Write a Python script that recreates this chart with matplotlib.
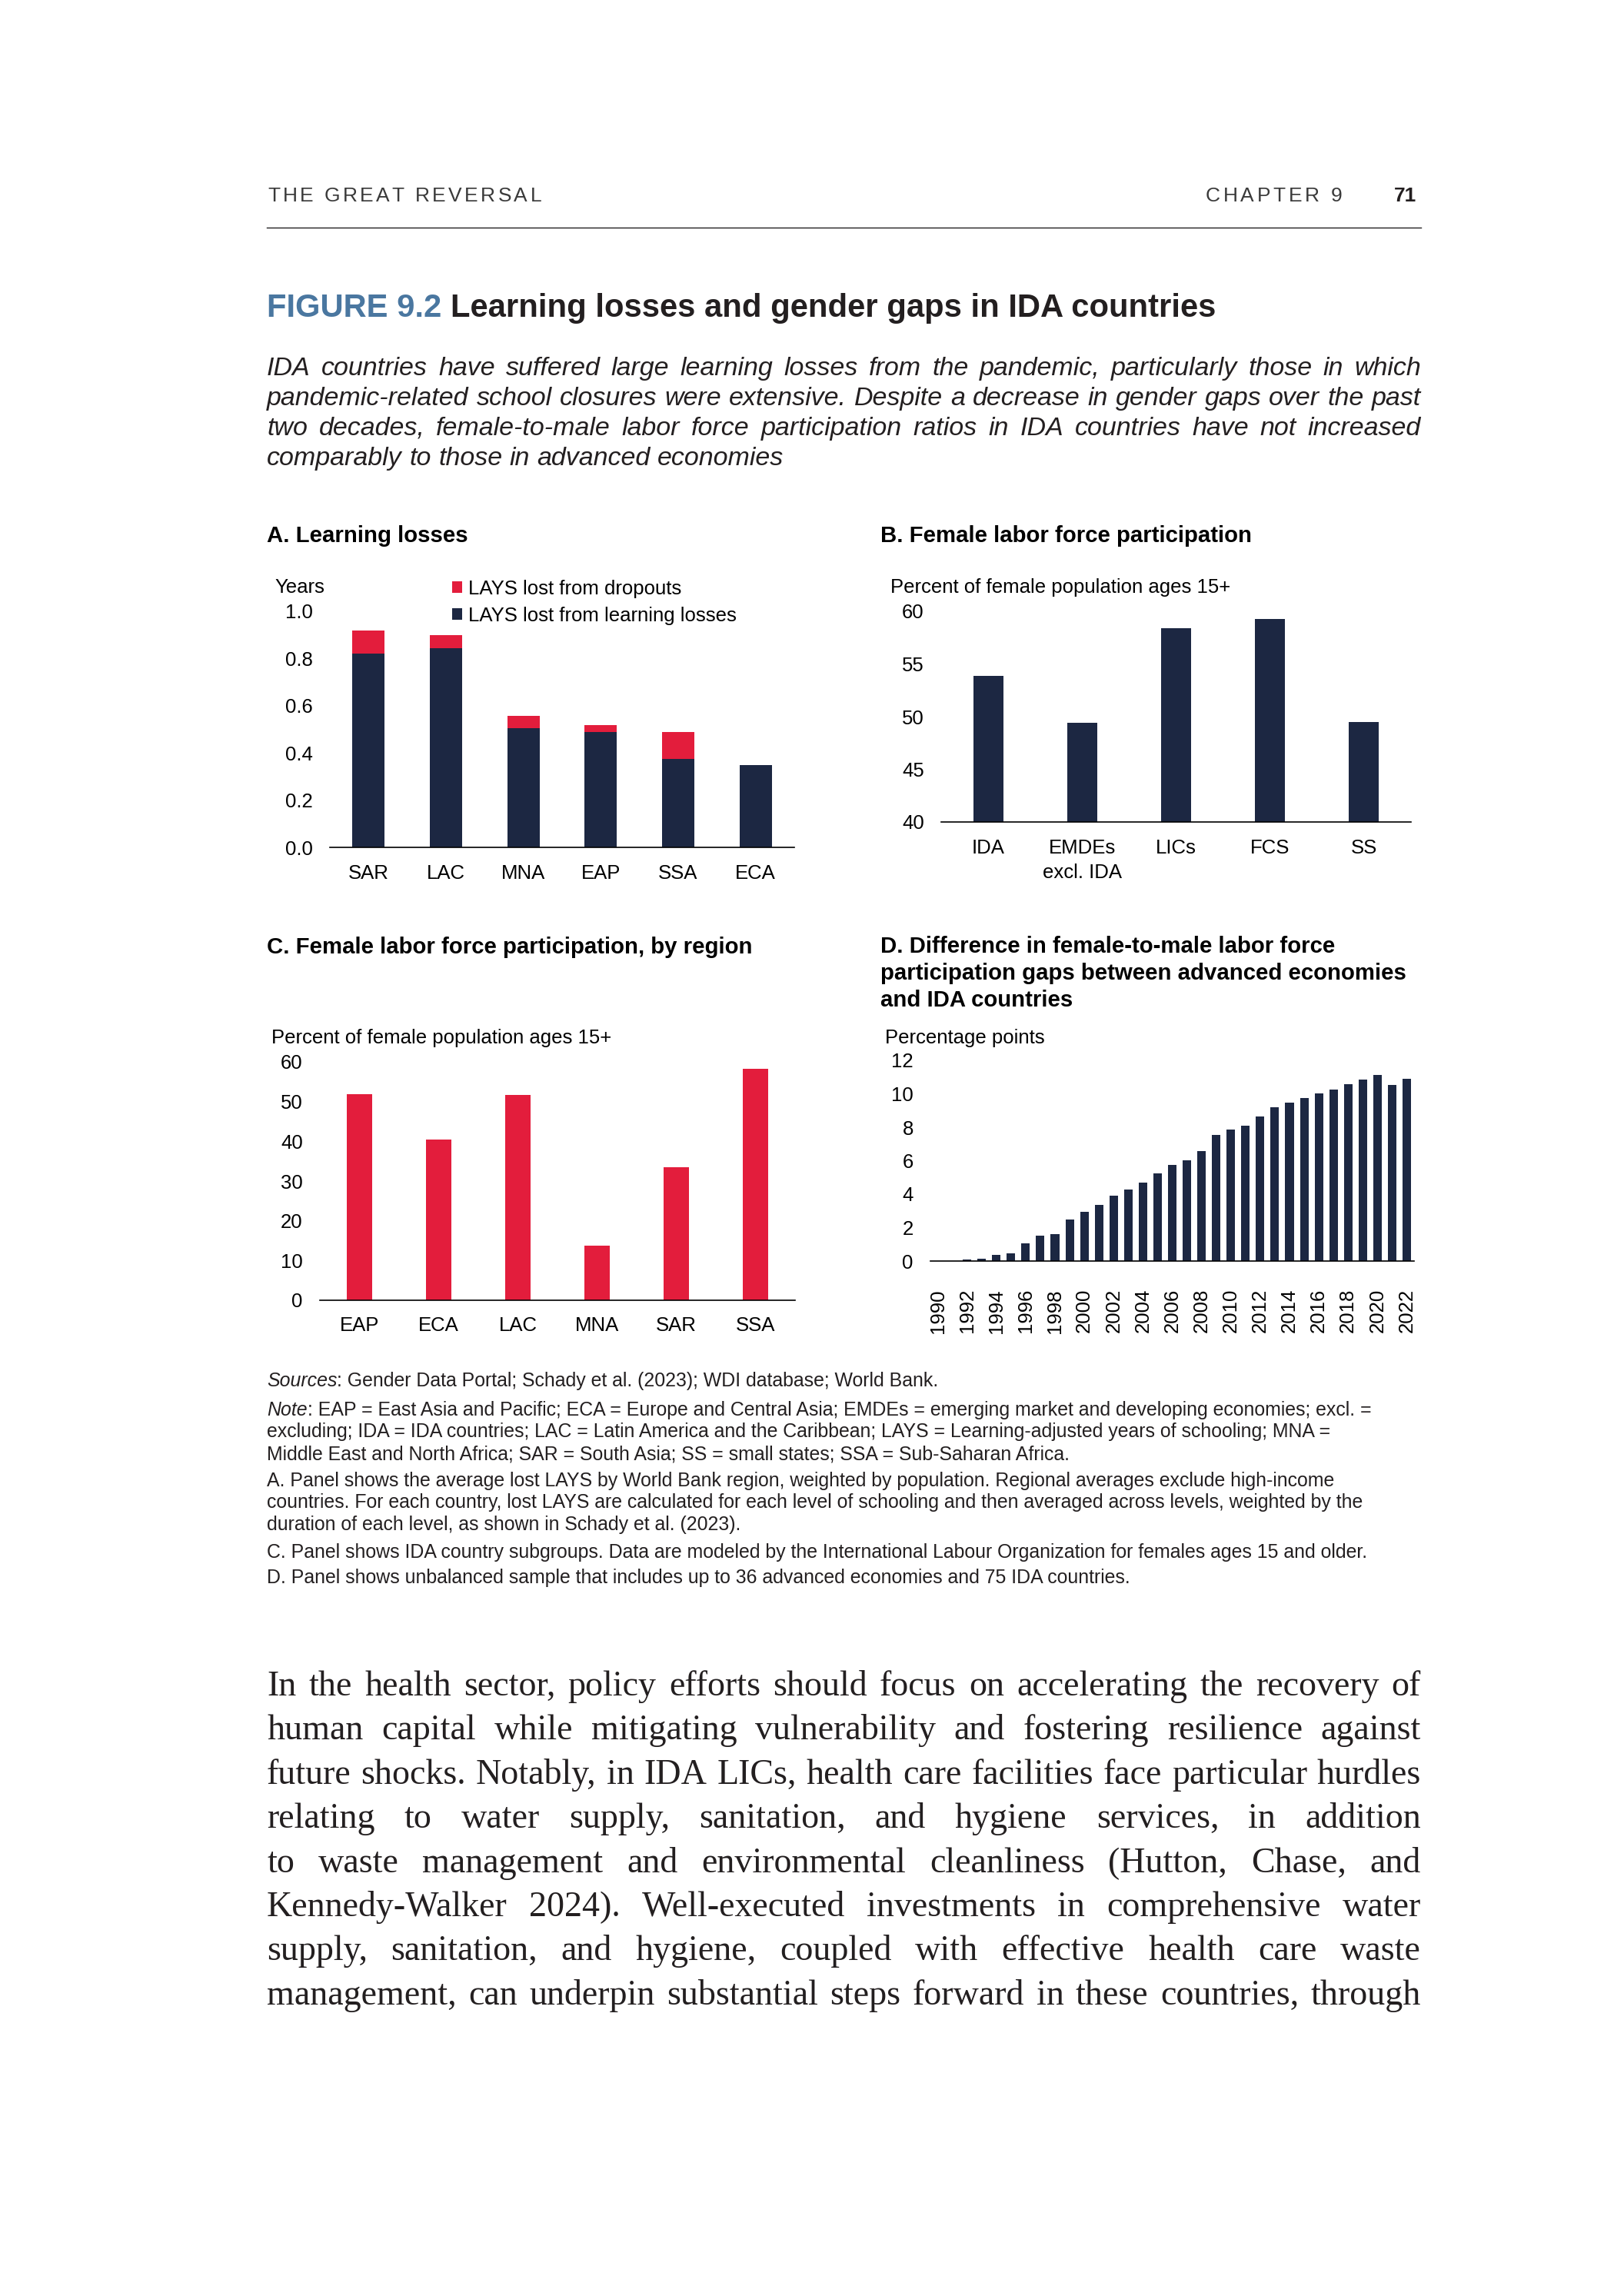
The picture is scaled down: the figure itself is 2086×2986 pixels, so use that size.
import numpy as np
import matplotlib.pyplot as plt
from matplotlib.lines import Line2D

# ---- data ----
regions_a = ["SAR", "LAC", "MNA", "EAP", "SSA", "ECA"]
lays_learning = [0.82, 0.845, 0.505, 0.487, 0.376, 0.349]
lays_dropouts = [0.098, 0.055, 0.052, 0.032, 0.113, 0.0]

groups_b = ["IDA", "EMDEs\nexcl. IDA", "LICs", "FCS", "SS"]
flfp_groups = [53.9, 49.4, 58.4, 59.3, 49.5]

regions_c = ["EAP", "ECA", "LAC", "MNA", "SAR", "SSA"]
flfp_regions = [51.8, 40.4, 51.6, 13.8, 33.5, 58.2]

years_d = list(range(1990, 2023))
gap_diff = [0.02, 0.02, 0.07, 0.15, 0.36, 0.47, 1.08, 1.5, 1.62, 2.46, 2.95,
            3.34, 3.93, 4.29, 4.67, 5.26, 5.75, 6.03, 6.58, 7.55, 7.87, 8.1,
            8.64, 9.2, 9.48, 9.76, 10.02, 10.25, 10.56, 10.85, 11.13, 10.53, 10.9]

title_blue = "FIGURE 9.2"
title_rest = "Learning losses and gender gaps in IDA countries"
subtitle = [
    "IDA countries have suffered large learning losses from the pandemic, particularly those in which",
    "pandemic-related school closures were extensive. Despite a decrease in gender gaps over the past",
    "two decades, female-to-male labor force participation ratios in IDA countries have not increased",
    "comparably to those in advanced economies",
]
notes = [
    [("Sources", "italic"), (": Gender Data Portal; Schady et al. (2023); WDI database; World Bank.", "normal")],
    [("Note", "italic"), (": EAP = East Asia and Pacific; ECA = Europe and Central Asia; EMDEs = emerging market and developing economies; excl. =", "normal")],
    [("excluding; IDA = IDA countries; LAC = Latin America and the Caribbean; LAYS = Learning-adjusted years of schooling; MNA =", "normal")],
    [("Middle East and North Africa; SAR = South Asia; SS = small states; SSA = Sub-Saharan Africa.", "normal")],
    [("A. Panel shows the average lost LAYS by World Bank region, weighted by population. Regional averages exclude high-income", "normal")],
    [("countries. For each country, lost LAYS are calculated for each level of schooling and then averaged across levels, weighted by the", "normal")],
    [("duration of each level, as shown in Schady et al. (2023).", "normal")],
    [("C. Panel shows IDA country subgroups. Data are modeled by the International Labour Organization for females ages 15 and older.", "normal")],
    [("D. Panel shows unbalanced sample that includes up to 36 advanced economies and 75 IDA countries.", "normal")],
]
note_baselines = [1803, 1841, 1869, 1898, 1933, 1961, 1990, 2026, 2059]
body = [
    "In the health sector, policy efforts should focus on accelerating the recovery of",
    "human capital while mitigating vulnerability and fostering resilience against",
    "future shocks. Notably, in IDA LICs, health care facilities face particular hurdles",
    "relating to water supply, sanitation, and hygiene services, in addition",
    "to waste management and environmental cleanliness (Hutton, Chase, and",
    "Kennedy-Walker 2024). Well-executed investments in comprehensive water",
    "supply, sanitation, and hygiene, coupled with effective health care waste",
    "management, can underpin substantial steps forward in these countries, through",
]

# ---- style ----
W, H = 2086, 2986
NAVY = "#1c2742"
RED = "#e31d3c"
BLUE = "#4a77a0"
INK = "#231f20"
plt.rcParams["font.family"] = ["Liberation Sans", "DejaVu Sans"]

fig = plt.figure(figsize=(W / 100, H / 100), dpi=100)
R = fig.canvas.get_renderer()


def fx(x):
    return x / W


def fy(y):
    return 1 - y / H


def put(x, y, s, **kw):
    kw.setdefault("va", "baseline")
    kw.setdefault("color", INK)
    return fig.text(fx(x), fy(y), s, **kw)


def width(t):
    return t.get_window_extent(R).width


def fit(s, target, **kw):
    t = put(0, 0, s, fontsize=20, **kw)
    w = width(t)
    t.remove()
    return 20 * target / w


def space_w(**kw):
    a = put(0, 0, "n n", **kw)
    b = put(0, 0, "nn", **kw)
    w = width(a) - width(b)
    a.remove()
    b.remove()
    return w


def tracked(x0, x1, y, s, **kw):
    sp = space_w(**kw)
    items = []
    for c in s:
        if c == " ":
            items.append((None, sp))
        else:
            t = put(0, y, c, **kw)
            items.append((t, width(t)))
    gap = (x1 - x0 - sum(w for _, w in items)) / (len(items) - 1)
    x = x0
    for t, w in items:
        if t is not None:
            t.set_x(fx(x))
        x += w + gap


def justify(lines, x0, x1, y0, dy, ragged_last, **kw):
    sp = space_w(**kw)
    for i, line in enumerate(lines):
        words = line.split(" ")
        ts = [put(0, y0 + i * dy, w, **kw) for w in words]
        ws = [width(t) for t in ts]
        if ragged_last and i == len(lines) - 1:
            gap = sp
        else:
            gap = (x1 - x0 - sum(ws)) / (len(words) - 1)
        x = x0
        for t, w in zip(ts, ws):
            t.set_x(fx(x))
            x += w + gap


def runs(x, y, parts, **kw):
    for s, st in parts:
        t = put(x, y, s, style=st, **kw)
        x += width(t)


def axes_px(l, t, r, b):
    return fig.add_axes([fx(l), fy(b), (r - l) / W, (b - t) / H])


# font sizes fitted to measured widths in the reference
CH = fit("Percent of female population ages 15+", 442)
PT = fit("A. Learning losses", 261, weight="bold")
TT = fit(title_blue + " " + title_rest, 1232, weight="bold")
ST = fit(subtitle[-1], 672, style="italic")
NT = fit(notes[-1][0][0], 1124)
BT = 0.99 * min(fit(l, 1501, family="Liberation Serif") for l in body)

# ---- page header ----
tracked(348, 704, 262, "THE GREAT REVERSAL", fontsize=19, color="#3a3a3a")
tracked(1568, 1745, 262, "CHAPTER 9", fontsize=19, color="#3a3a3a")
put(1842, 262, "71", fontsize=19, weight="bold", ha="right")
fig.add_artist(Line2D([fx(347), fx(1848)], [fy(296), fy(296)],
                      transform=fig.transFigure, color=INK, lw=1.0))

# ---- figure title and subtitle ----
t = put(347, 412, title_blue, fontsize=TT, weight="bold", color=BLUE)
put(347 + width(t) + 0.28 * TT * 100 / 72, 412, title_rest, fontsize=TT, weight="bold")
justify(subtitle, 347, 1848, 488, 39, True, fontsize=ST, style="italic")


def style_axes(ax, ylim, yticks, fmt, xpad=16):
    for s in ["top", "right", "left"]:
        ax.spines[s].set_visible(False)
    ax.spines["bottom"].set_color("black")
    ax.spines["bottom"].set_linewidth(1.2)
    ax.set_ylim(*ylim)
    ax.set_yticks(yticks)
    ax.set_yticklabels([fmt.format(v) for v in yticks])
    ax.tick_params(length=0, labelsize=CH, colors="black")
    ax.tick_params(axis="y", pad=16)
    ax.tick_params(axis="x", pad=xpad)
    ax.set_facecolor("none")


# ---- A. Learning losses ----
put(347, 705, "A. Learning losses", fontsize=PT, weight="bold", color="black")
put(357, 771, "Years", fontsize=CH, color="black")
axA = axes_px(429, 795, 1033, 1102)
xa = np.arange(len(regions_a))
b1 = axA.bar(xa, lays_learning, 0.42, color=NAVY)
b2 = axA.bar(xa, lays_dropouts, 0.42, bottom=lays_learning, color=RED)
axA.set_xlim(-0.5, len(regions_a) - 0.5)
axA.set_xticks(xa)
axA.set_xticklabels(regions_a)
style_axes(axA, (0, 1), np.arange(0, 1.01, 0.2), "{:.1f}")
axA.legend([b2, b1], ["LAYS lost from dropouts", "LAYS lost from learning losses"],
           loc="upper left", bbox_to_anchor=(fx(588), fy(754)),
           bbox_transform=fig.transFigure, frameon=False, fontsize=CH,
           handlelength=0.5, handleheight=0.5, handletextpad=0.3,
           labelspacing=0.42, borderpad=0, borderaxespad=0)

# ---- B. Female labor force participation ----
put(1145, 705, "B. Female labor force participation", fontsize=PT, weight="bold", color="black")
put(1158, 771, "Percent of female population ages 15+", fontsize=CH, color="black")
axB = axes_px(1224, 795, 1835, 1069)
xb = np.arange(len(groups_b))
axB.bar(xb, flfp_groups, 0.32, color=NAVY)
axB.set_xlim(-0.5, len(groups_b) - 0.5)
axB.set_xticks(xb)
axB.set_xticklabels(groups_b, linespacing=1.4)
style_axes(axB, (40, 60), np.arange(40, 61, 5), "{:.0f}")

# ---- C. Female labor force participation, by region ----
put(347, 1240, "C. Female labor force participation, by region", fontsize=PT, weight="bold", color="black")
put(353, 1357, "Percent of female population ages 15+", fontsize=CH, color="black")
axC = axes_px(416, 1381, 1034, 1691)
xc = np.arange(len(regions_c))
axC.bar(xc, flfp_regions, 0.32, color=RED)
axC.set_xlim(-0.5, len(regions_c) - 0.5)
axC.set_xticks(xc)
axC.set_xticklabels(regions_c)
style_axes(axC, (0, 60), np.arange(0, 61, 10), "{:.0f}", xpad=15)

# ---- D. Difference in gaps ----
for i, line in enumerate(["D. Difference in female-to-male labor force",
                          "participation gaps between advanced economies",
                          "and IDA countries"]):
    put(1145, 1239 + 35 * i, line, fontsize=PT, weight="bold", color="black")
put(1151, 1357, "Percentage points", fontsize=CH, color="black")
axD = axes_px(1210, 1379, 1839, 1640)
xd = np.arange(len(years_d))
axD.bar(xd, gap_diff, 0.58, color=NAVY)
axD.set_xlim(-0.5, len(years_d) - 0.5)
axD.set_xticks(xd[::2])
axD.set_xticklabels([str(y) for y in years_d[::2]], rotation=90)
style_axes(axD, (0, 12), np.arange(0, 13, 2), "{:.0f}", xpad=26)

# ---- sources and notes ----
for parts, yb in zip(notes, note_baselines):
    runs(347, yb, parts, fontsize=NT)

# ---- body text ----
justify(body, 347, 1848, 2205, 57.4, False, fontsize=BT, family="Liberation Serif")

fig.savefig("out.png", dpi=100, facecolor="white")
